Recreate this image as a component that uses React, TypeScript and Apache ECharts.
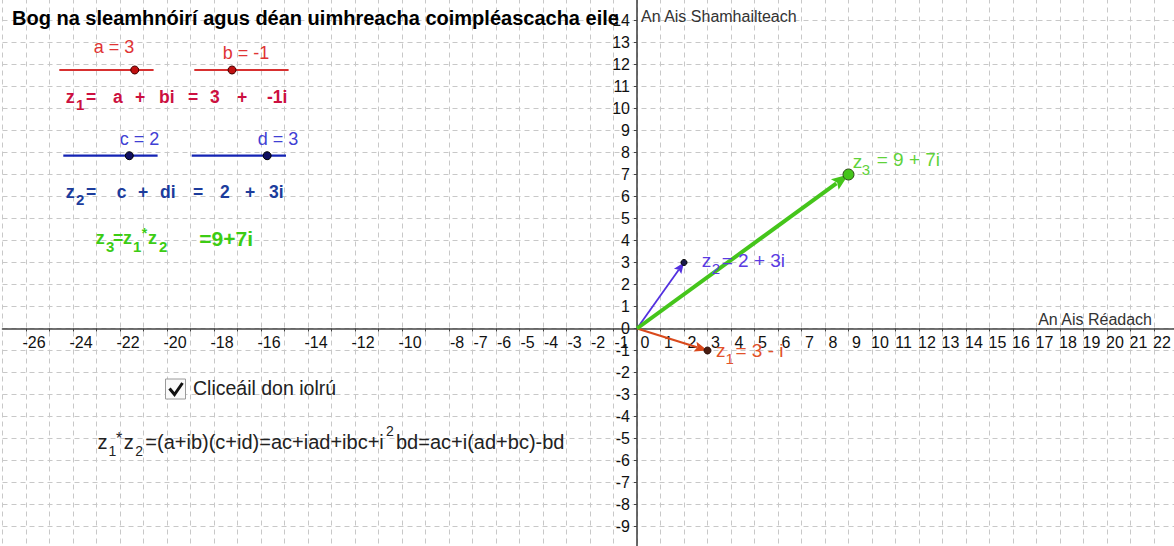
import React, { useEffect, useRef } from "react";
import * as echarts from "echarts";

// ---------------- data ----------------
const xMin = -27;
const xMax = 23;
const yMin = -10;
const yMax = 15;
const sliderNames = ["a", "b", "c", "d"];
const sliderValues = [3, -1, 2, 3];
const sliderRange = [-5, 5];
const z1 = [3, -1];
const z2 = [2, 3];
const z3 = [9, 7];
const vectorSubs = ["1", "2", "3"];

// ---------------- layout / style ----------------
const W = 1174;
const H = 546;
const OX = 637;
const OY = 328.5;
const UX = 23.5;
const UY = 22;
const FONT = "'Liberation Sans', Arial, Helvetica, sans-serif";
const GRID_LEFT = OX + xMin * UX;
const GRID_TOP = OY - yMax * UY;
const GRID_W = (xMax - xMin) * UX;
const GRID_H = (yMax - yMin) * UY;

const vecStyles = [
  { color: "#d9491c", width: 2.2, head: [13, 5], dot: "#4a1d12", dotStroke: "#2a0d08", r: 3.5, label: "#e2522a", zx: 8.5, zy: -0.5, sx: 18, sy: 7.5, rx: 28, ry: -0.5 },
  { color: "#5330e0", width: 1.8, head: [11, 4.5], dot: "#1a1a4a", dotStroke: "#000", r: 3, label: "#5a3be2", zx: 17.7, zy: -2.5, sx: 27.7, sy: 5.5, rx: 37.7, ry: -2.5 },
  { color: "#45c51b", width: 4, head: [17, 6.5], dot: "#45c51b", dotStroke: "#2f4a1a", r: 5.5, label: "#5fd23a", zx: 4.2, zy: -12.8, sx: 13.2, sy: -5, rx: 28.2, ry: -15 },
];

const sliderLayout = [
  { left: 59.3, y: 70, lx: 114, ly: 46.7, line: "#d83030", text: "#e03434", dot: "#c01010", dotStroke: "#400" },
  { left: 194.3, y: 70, lx: 246, ly: 53.3, line: "#d83030", text: "#e03434", dot: "#c01010", dotStroke: "#400" },
  { left: 63.3, y: 155.7, lx: 139.5, ly: 139.3, line: "#1424b4", text: "#4040d4", dot: "#101060", dotStroke: "#000" },
  { left: 191.7, y: 155.7, lx: 278, ly: 139.3, line: "#1424b4", text: "#4040d4", dot: "#101060", dotStroke: "#000" },
];
const SLIDER_W = 94.3;

function txt(text: string, x: number, y: number, size: number, color: string, bold = false, align = "left") {
  return {
    type: "text",
    x,
    y,
    z: 50,
    silent: true,
    style: {
      text,
      fill: color,
      fontSize: size,
      fontFamily: FONT,
      fontWeight: bold ? "bold" : "normal",
      align,
      verticalAlign: "middle",
      textAlign: align,
      textVerticalAlign: "middle",
    },
  };
}

function complexText(re: number, im: number) {
  const sign = im < 0 ? "-" : "+";
  const a = Math.abs(im);
  return `${re} ${sign} ${a === 1 ? "" : a}i`;
}

export default function App() {
  const ref = useRef<HTMLDivElement>(null);

  useEffect(() => {
    if (!ref.current) return;
    const chart = echarts.init(ref.current, null, { renderer: "svg" });

    const graphic: any[] = [];
    // title
    graphic.push(txt("Bog na sleamhnóirí agus déan uimhreacha coimpléascacha eile", 12, 18, 20, "#000", true));
    // axis names
    graphic.push(txt("An Ais Shamhailteach", 641, 16, 16, "#333"));
    graphic.push(txt("An Ais Réadach", 1152, 319, 16, "#333", false, "right"));

    // sliders
    sliderNames.forEach((n, i) => {
      const L = sliderLayout[i];
      const v = sliderValues[i];
      const px = L.left + ((v - sliderRange[0]) / (sliderRange[1] - sliderRange[0])) * SLIDER_W;
      graphic.push({ type: "line", z: 40, silent: true, shape: { x1: L.left, y1: L.y, x2: L.left + SLIDER_W, y2: L.y }, style: { stroke: L.line, lineWidth: 2.2 } });
      graphic.push({ type: "circle", z: 41, silent: true, shape: { cx: px, cy: L.y, r: 4 }, style: { fill: L.dot, stroke: L.dotStroke, lineWidth: 1 } });
      graphic.push(txt(`${n} = ${v}`, L.lx, L.ly, 18, L.text, false, "center"));
    });

    // z1 line
    const c1 = "#cc1040";
    const y1 = 96.5;
    const t1 = ["=", "a", "+", "bi", "=", String(sliderValues[0]), "+", `${sliderValues[1]}i`];
    const x1 = [86, 113, 135, 159, 188, 210, 237, 267];
    graphic.push(txt("z", 65.7, y1, 18, c1, true));
    graphic.push(txt("1", 76, y1 + 8, 15, c1, true));
    t1.forEach((t, i) => graphic.push(txt(t, x1[i], y1, 17.5, c1, true)));

    // z2 line
    const c2 = "#1c3c9c";
    const y2 = 191.7;
    const t2 = ["=", "c", "+", "di", "=", String(sliderValues[2]), "+", `${sliderValues[3]}i`];
    const x2 = [86, 116.7, 138, 160, 193, 220, 245, 269];
    graphic.push(txt("z", 65.7, y2, 18, c2, true));
    graphic.push(txt("2", 76, y2 + 8, 15, c2, true));
    t2.forEach((t, i) => graphic.push(txt(t, x2[i], y2, 17.5, c2, true)));

    // z3 line
    const c3 = "#3ccc14";
    const y3 = 238.3;
    graphic.push(txt("z", 95.7, y3, 18, c3, true));
    graphic.push(txt("3", 106, y3 + 8, 15, c3, true));
    graphic.push(txt("=", 113, y3, 17.5, c3, true));
    graphic.push(txt("z", 123, y3, 18, c3, true));
    graphic.push(txt("1", 133, y3 + 8, 15, c3, true));
    graphic.push(txt("*", 141.7, y3 - 5, 14, c3, true));
    graphic.push(txt("z", 148, y3, 18, c3, true));
    graphic.push(txt("2", 159, y3 + 8, 15, c3, true));
    graphic.push(txt(`=${z3[0]}+${z3[1]}i`, 199.3, y3, 21, c3, true));

    // checkbox
    graphic.push({ type: "rect", z: 40, silent: true, shape: { x: 165.5, y: 379, width: 20, height: 20 }, style: { fill: "#fafafa", stroke: "#9a9a9a", lineWidth: 1 } });
    graphic.push({ type: "polyline", z: 41, silent: true, shape: { points: [[169.5, 388.5], [174.5, 394.5], [182.5, 383]] }, style: { stroke: "#111", lineWidth: 3, fill: null } });
    graphic.push(txt("Cliceáil don iolrú", 193, 388, 19.5, "#222"));

    // formula
    const fy = 442;
    graphic.push(txt("z", 97.6, fy, 20, "#222"));
    graphic.push(txt("1", 108.4, fy + 9, 14, "#222"));
    graphic.push(txt("*", 116, fy - 4, 16, "#222"));
    graphic.push(txt("z", 123.8, fy, 20, "#222"));
    graphic.push(txt("2", 135.3, fy + 9, 14, "#222"));
    graphic.push(txt("=(a+ib)(c+id)=ac+iad+ibc+i", 145.3, fy, 20, "#222"));
    graphic.push(txt("2", 386, fy - 11, 14, "#222"));
    graphic.push(txt("bd=ac+i(ad+bc)-bd", 396, fy, 20, "#222"));

    const vectors = [z1, z2, z3].map((z) => [z[0], z[1]]);

    const option: any = {
      animation: false,
      backgroundColor: "#ffffff",
      grid: {
        left: GRID_LEFT,
        top: GRID_TOP,
        width: GRID_W,
        height: GRID_H,
        containLabel: false,
        outerBoundsMode: "none",
      },
      xAxis: {
        type: "value",
        min: xMin,
        max: xMax,
        interval: 1,
        position: "bottom",
        offset: -(GRID_TOP + GRID_H - OY),
        axisLine: { onZero: false, lineStyle: { color: "#444", width: 1.6 } },
        axisTick: { show: true, length: 3, lineStyle: { color: "#444", width: 1 } },
        axisLabel: {
          showMinLabel: false,
          showMaxLabel: false,
          hideOverlap: false,
          formatter: (v: number) => (v <= xMin || v >= xMax ? "" : v >= -8 || v % 2 === 0 ? String(v) : ""),
          fontSize: 16,
          fontFamily: FONT,
          color: "#111",
          align: "center",
          padding: [0, 0, 0, 16],
          margin: 6,
        },
        splitLine: { show: true, lineStyle: { color: "#c8c8c8", type: [5, 4], width: 1 } },
      },
      yAxis: {
        type: "value",
        min: yMin,
        max: yMax,
        interval: 1,
        position: "left",
        offset: -(OX - GRID_LEFT),
        axisLine: { onZero: false, lineStyle: { color: "#444", width: 1.6 } },
        axisTick: { show: true, length: 3, lineStyle: { color: "#444", width: 1 } },
        axisLabel: {
          showMinLabel: false,
          showMaxLabel: false,
          hideOverlap: false,
          formatter: (v: number) => (v <= yMin || v >= yMax ? "" : String(v)),
          fontSize: 16,
          fontFamily: FONT,
          color: "#111",
          align: "right",
          verticalAlign: "middle",
          padding: [0, 0, 14, 0],
          margin: 7,
        },
        splitLine: { show: true, lineStyle: { color: "#c8c8c8", type: [5, 4], width: 1 } },
      },
      graphic,
      series: [
        {
          type: "custom",
          coordinateSystem: "cartesian2d",
          encode: { x: 0, y: 1 },
          clip: false,
          data: vectors,
          renderItem: (params: any, api: any) => {
            const i = params.dataIndex;
            const st = vecStyles[i];
            const vx = api.value(0);
            const vy = api.value(1);
            const p0 = api.coord([0, 0]);
            const p1 = api.coord([vx, vy]);
            const dx = p1[0] - p0[0];
            const dy = p1[1] - p0[1];
            const len = Math.hypot(dx, dy);
            const ux = dx / len;
            const uy = dy / len;
            const hl = st.head[0];
            const hw = st.head[1];
            const bx = p1[0] - ux * hl;
            const by = p1[1] - uy * hl;
            const mk = (t: string, x: number, y: number, size: number) => ({
              type: "text",
              x,
              y,
              z2: 20,
              style: {
                text: t,
                fill: st.label,
                fontSize: size,
                fontFamily: FONT,
                align: "left",
                verticalAlign: "middle",
                textAlign: "left",
                textVerticalAlign: "middle",
              },
            });
            return {
              type: "group",
              children: [
                { type: "line", z2: 1, shape: { x1: p0[0], y1: p0[1], x2: bx + ux * 2, y2: by + uy * 2 }, style: { stroke: st.color, lineWidth: st.width } },
                {
                  type: "polygon",
                  z2: 2,
                  shape: {
                    points: [
                      [p1[0], p1[1]],
                      [bx - uy * hw, by + ux * hw],
                      [bx + ux * hl * 0.18, by + uy * hl * 0.18],
                      [bx + uy * hw, by - ux * hw],
                    ],
                  },
                  style: { fill: st.color },
                },
                { type: "circle", z2: 3, shape: { cx: p1[0], cy: p1[1], r: st.r }, style: { fill: st.dot, stroke: st.dotStroke, lineWidth: 1 } },
                mk("z", p1[0] + st.zx, p1[1] + st.zy, 19),
                mk(vectorSubs[i], p1[0] + st.sx, p1[1] + st.sy, 15),
                mk("= " + complexText(vx, vy), p1[0] + st.rx, p1[1] + st.ry, 19),
              ],
            };
          },
        },
      ],
    };

    chart.setOption(option);
    return () => {
      chart.dispose();
    };
  }, []);

  return (
    <div
      ref={ref}
      style={{ position: "fixed", left: 0, top: 0, width: W, height: H, background: "#fff" }}
    />
  );
}
